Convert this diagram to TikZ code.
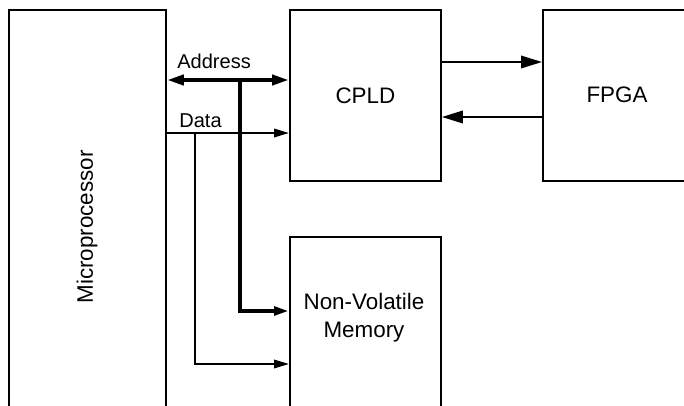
\documentclass[tikz,border=0pt]{standalone}
\usepackage{fontspec}
\setmainfont{Liberation Sans}
\usetikzlibrary{arrows.meta}

\tikzset{
  blk/.style={draw, line width=1.1pt, inner sep=0pt},
  lbl/.style={font=\fontsize{12.75}{15.9}\selectfont, align=center},
  tag/.style={font=\fontsize{11.4}{13}\selectfont, inner sep=0pt},
  sig/.style={line width=1.1pt},
  bus/.style={line width=2.3pt},
  tipS/.style={-{Triangle[length=0.3cm,width=0.17cm]}},
  tipB/.style={{Triangle[length=0.34cm,width=0.2cm]}-{Triangle[length=0.34cm,width=0.2cm]}},
  tipL/.style={-{Triangle[length=0.42cm,width=0.25cm]}}
}

\begin{document}
\begin{tikzpicture}[x=0.02cm, y=-0.02cm]
  \useasboundingbox (0,0) rectangle (684,406);
  % Blocks (Microprocessor, FPGA and memory run past the page edge)
  \node[blk, anchor=north west, minimum width=3.14cm, minimum height=10cm] (mp) at (8,9) {};
  \node[blk, anchor=north west, minimum width=3.02cm, minimum height=3.42cm] (cpld) at (289,9) {};
  \node[blk, anchor=north west, minimum width=3.2cm, minimum height=3.42cm] (fpga) at (542,9) {};
  \node[blk, anchor=north west, minimum width=3.02cm, minimum height=4cm] (nvm) at (289,236) {};
  % Block names
  \node[lbl, rotate=90] (mpname) at (87,227) {Microprocessor};
  \node[lbl] (cpldname) at (cpld.center) {CPLD};
  \node[lbl] (fpganame) at (617,95) {FPGA};
  \node[lbl] (nvmname) at (364,318) {Non-Volatile\\Memory};
  % Bus levels and branch points
  \coordinate (addr) at (0,80);
  \coordinate (data) at (0,133);
  \coordinate (abr) at (240,80);
  \coordinate (dbr) at (195,133);
  % Address bus (thick) and its branch to memory
  \draw[bus, tipB] (mp.east |- addr) -- (cpld.west |- addr);
  \draw[bus, tipS] (abr) |- (nvm.west |- 0,311);
  \node[tag, anchor=base west] (addrlbl) at (177,68) {Address};
  % Data lines
  \draw[sig, tipS] (mp.east |- data) -- (cpld.west |- data);
  \draw[sig, tipS] (dbr) |- (nvm.west |- 0,364);
  \node[tag, anchor=base west] (datalbl) at (179,127) {Data};
  % CPLD <-> FPGA
  \draw[sig, tipL] (cpld.east |- 0,62) -- (fpga.west |- 0,62);
  \draw[sig, tipL] (fpga.west |- 0,117) -- (cpld.east |- 0,117);
\end{tikzpicture}
\end{document}
